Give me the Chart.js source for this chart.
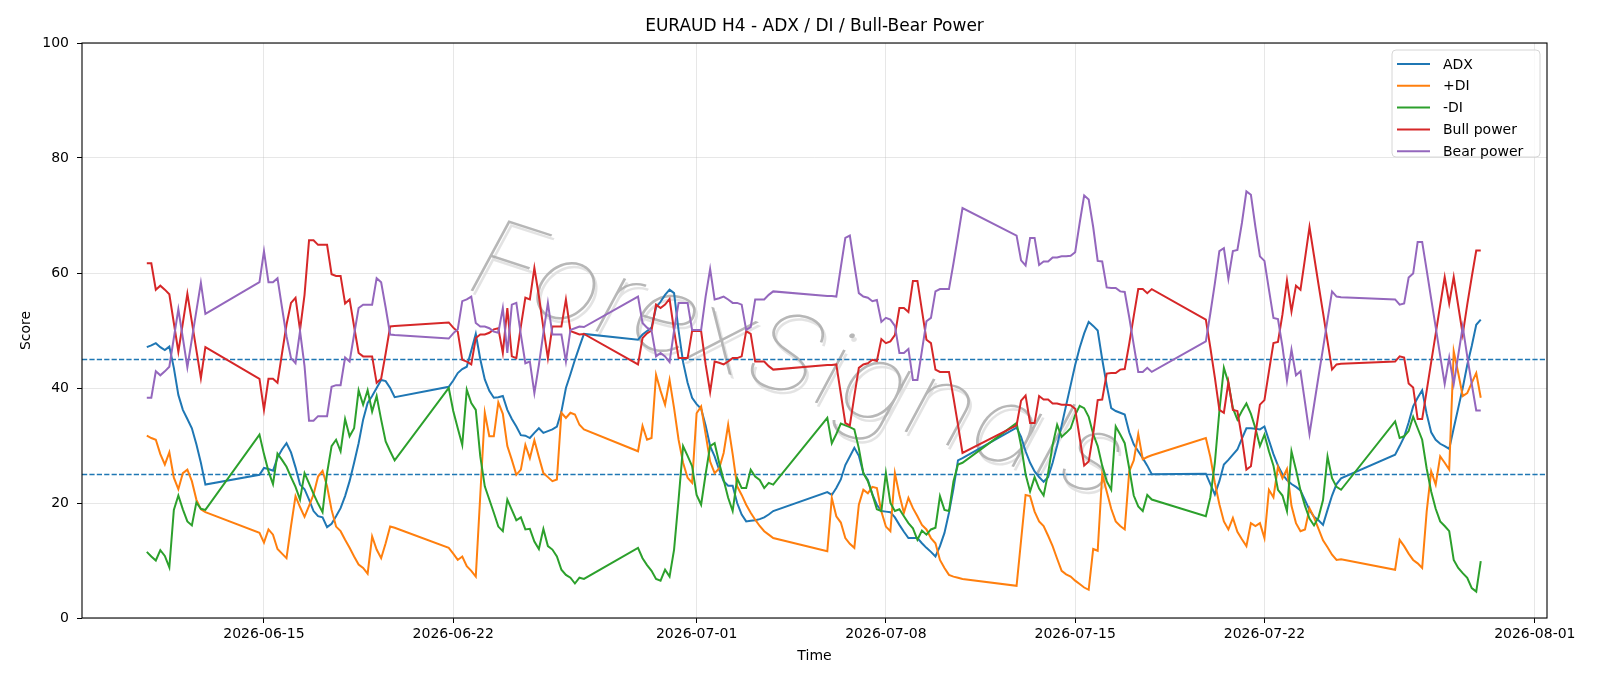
<!DOCTYPE html>
<html>
<head>
<meta charset="utf-8">
<script src="https://cdn.jsdelivr.net/npm/chart.js@4.4.1/dist/chart.umd.min.js"></script>
<style>
html,body{margin:0;padding:0;background:#ffffff;}
#wrap{width:1600px;height:686px;}
</style>
</head>
<body>
<div id="wrap"><canvas id="c" width="1600" height="686"></canvas></div>
<script>
const chartTitle = 'EURAUD H4 - ADX / DI / Bull-Bear Power';
const xTitle = 'Time';
const yTitle = 'Score';
const watermark = 'ForexSignals';

// H4 trading sessions (UTC): first bar and number of bars
const sessionStarts = ['2026-06-10T16:00Z','2026-06-14T20:00Z','2026-06-21T20:00Z','2026-06-28T20:00Z',
                       '2026-07-05T20:00Z','2026-07-12T20:00Z','2026-07-19T20:00Z','2026-07-26T20:00Z'];
const sessionBars = [14, 31, 31, 31, 31, 31, 31, 20];

const tickDates = ['2026-06-15','2026-06-22','2026-07-01','2026-07-08','2026-07-15','2026-07-22','2026-08-01'];
const yTicks = [0, 20, 40, 60, 80, 100];
const thresholds = [45, 25];

const seriesNames = ['ADX', '+DI', '-DI', 'Bull power', 'Bear power'];

const adx = [
47.1,47.4,47.8,47.1,46.6,47.2,43.5,38.8,36.2,34.6,33.0,30.2,27.0,23.2,
24.9,26.1,25.9,25.6,27.9,29.3,30.4,28.8,26.2,23.2,22.4,20.6,18.6,17.7,17.5,15.8,16.4,17.7,19.1,21.2,23.8,27.0,30.4,34.5,37.4,38.6,40.0,41.4,41.2,40.0,38.4,
40.2,41.3,42.6,43.3,43.7,46.5,49.4,45.0,41.5,39.5,38.3,38.4,38.6,36.2,34.6,33.3,31.8,31.7,31.3,32.2,33.0,32.2,32.5,32.8,33.3,35.9,40.0,42.4,44.9,47.2,49.4,
48.4,49.3,49.9,50.5,54.0,55.0,56.2,57.1,56.5,50.0,44.5,40.9,38.3,37.2,36.4,33.5,29.9,28.1,25.8,23.8,23.0,23.0,20.0,18.0,16.8,16.9,17.0,17.2,17.5,18.0,18.6,
21.9,21.4,22.6,24.1,26.6,28.1,29.6,28.2,25.2,24.0,21.5,19.7,18.6,18.5,18.4,17.5,16.2,15.0,13.9,13.9,13.9,13.0,12.2,11.5,10.7,12.5,14.8,18.3,22.5,27.4,27.8,
33.1,31.5,29.0,27.0,25.5,24.5,23.7,24.5,27.0,30.0,33.5,37.0,40.5,44.0,47.0,49.5,51.5,50.8,50.0,45.0,40.5,36.5,36.0,35.7,35.4,32.3,30.2,29.0,27.8,26.5,25.0,
25.1,23.3,21.5,23.8,26.7,27.5,28.4,29.3,31.2,33.0,33.0,32.9,32.8,33.3,30.9,28.5,26.5,25.0,24.0,23.3,22.8,22.2,20.5,18.8,17.6,17.0,16.2,18.8,21.3,23.3,24.3,
28.4,29.9,31.5,34.0,36.8,38.3,39.6,35.5,32.3,31.0,30.3,29.9,29.4,33.0,36.5,40.0,44.0,47.3,51.0,51.9
];
const plusDI = [
31.7,31.3,31.0,28.5,26.7,28.8,24.4,22.4,25.2,25.8,23.8,20.6,18.9,18.4,
14.8,13.1,15.4,14.5,12.0,11.2,10.4,16.0,21.2,19.3,17.6,19.5,21.5,24.6,25.6,22.9,18.8,15.9,15.1,13.6,12.2,10.7,9.3,8.7,7.7,14.2,11.9,10.4,13.0,15.9,15.7,
12.2,11.2,10.1,10.7,9.0,8.2,7.2,21.4,35.7,31.6,31.6,37.5,35.5,29.9,27.5,24.9,25.8,30.1,27.8,30.9,28.0,25.2,24.5,23.8,24.1,35.7,34.8,35.7,35.4,33.6,32.8,
29.0,33.4,31.0,31.3,42.3,39.5,37.1,41.4,36.5,31.0,27.0,24.4,23.5,35.6,36.8,32.0,27.2,25.2,26.0,28.7,33.6,28.5,22.9,21.4,19.7,18.3,17.1,16.0,15.1,14.5,13.9,
11.6,20.9,17.7,16.6,13.9,12.9,12.2,19.7,22.3,21.7,22.8,22.6,18.5,15.9,15.1,25.2,21.4,18.3,20.9,19.1,17.7,16.2,15.4,13.9,13.0,10.1,8.7,7.5,7.2,7.0,6.8,
5.6,13.5,21.4,21.2,18.5,16.8,16.0,14.3,12.5,10.3,8.2,7.6,7.2,6.5,5.9,5.3,4.9,12.0,11.7,25.0,22.0,19.0,16.8,16.0,15.4,25.5,27.4,32.0,27.6,28.0,28.3,
31.3,28.0,23.5,19.8,16.8,15.4,17.4,15.0,13.7,12.5,16.5,16.0,16.5,13.9,22.3,21.0,26.3,24.3,25.9,19.5,16.5,15.1,15.4,19.1,17.5,15.5,13.5,12.3,11.0,10.1,10.2,
8.4,13.6,12.5,11.2,10.1,9.5,8.7,18.5,25.5,23.2,28.1,27.0,25.8,46.4,42.6,38.6,39.1,40.9,42.6,38.3
];
const minusDI = [
11.5,10.7,10.0,11.8,10.8,8.8,18.8,21.3,18.9,16.8,16.1,20.1,19.0,18.8,
31.9,28.5,25.5,23.3,28.6,27.5,26.3,24.5,22.8,20.6,25.2,23.4,21.6,19.9,18.4,25.2,29.9,31.0,29.0,34.6,31.6,33.0,39.6,37.1,39.6,35.9,38.6,34.5,30.7,29.0,27.4,
40.0,36.0,33.0,30.1,39.7,37.4,36.2,28.1,22.9,20.6,18.3,15.9,15.1,20.6,18.8,17.0,17.5,15.4,15.5,13.3,12.0,15.5,12.5,11.9,10.7,8.4,7.5,7.0,6.0,7.0,6.8,
12.2,10.4,9.2,8.2,6.8,6.5,8.4,7.2,11.9,20.6,29.9,28.2,26.4,21.4,19.7,25.0,29.9,30.4,27.0,24.0,20.9,18.6,24.3,22.6,22.6,25.8,24.6,24.0,22.6,23.5,23.2,
34.8,30.4,32.0,33.8,33.5,33.2,32.8,29.5,25.2,23.8,21.5,18.9,18.6,25.2,20.0,18.6,18.9,17.7,16.5,15.6,13.6,15.2,14.5,15.4,15.7,21.2,18.8,18.6,23.8,26.7,27.0,
33.9,30.0,25.0,22.0,24.5,22.5,21.3,25.2,30.1,33.6,31.5,32.2,33.0,35.3,36.9,36.5,35.0,32.0,29.9,26.5,23.8,22.3,33.3,31.9,30.4,26.0,21.3,19.4,18.6,21.4,20.6,
17.7,21.0,27.0,36.0,43.5,40.9,36.5,34.5,36.0,37.3,35.5,33.0,29.9,31.9,29.0,26.5,22.3,21.3,18.6,29.0,25.8,22.2,19.5,17.3,16.1,17.5,20.5,28.1,24.3,22.8,22.3,
34.2,31.3,31.6,32.5,35.0,33.0,31.0,26.0,22.0,19.0,16.8,16.0,15.1,10.1,8.7,7.8,7.0,5.2,4.6,9.9
];
const bullPower = [
61.7,61.7,57.1,57.8,57.1,56.3,51.3,46.3,51.3,56.4,51.5,46.6,41.7,47.1,
41.6,36.2,41.6,41.6,40.9,46.0,51.0,54.8,55.7,50.1,56.2,65.7,65.7,64.9,64.9,64.9,59.8,59.5,59.5,54.7,55.4,50.7,46.1,45.5,45.5,45.5,40.9,41.6,46.0,50.7,50.8,
51.4,50.5,49.8,44.9,44.6,44.1,48.7,49.3,49.3,49.6,50.2,50.4,46.1,53.9,45.5,45.2,50.7,55.7,55.4,60.9,56.0,50.4,45.2,50.7,50.7,50.7,55.4,49.9,49.6,49.3,49.4,
44.1,48.7,49.5,50.0,54.5,53.9,54.5,55.5,50.0,45.2,45.2,45.2,49.9,49.9,49.9,44.1,39.3,44.6,44.4,44.1,44.6,45.2,45.2,45.5,49.9,49.4,44.6,44.6,44.6,43.8,43.2,
44.0,44.0,44.1,39.0,33.9,33.5,38.6,43.5,44.1,44.3,44.9,44.7,48.5,47.8,48.1,49.2,53.9,53.9,53.2,58.6,58.6,53.5,48.4,47.8,43.2,42.8,42.8,42.8,38.3,33.6,28.7,
33.5,37.8,38.7,33.9,33.9,38.6,38.0,38.0,37.3,37.3,37.1,37.1,37.0,36.4,31.3,26.5,27.2,32.0,37.9,38.0,42.5,42.6,42.6,43.2,43.3,47.7,52.5,57.2,57.2,56.5,57.2,
51.9,47.0,41.8,36.2,35.7,41.0,36.2,36.0,31.3,25.8,26.4,32.0,37.1,37.9,42.9,47.8,48.0,52.8,58.7,53.3,57.8,57.1,62.5,68.0,63.0,58.0,53.1,48.1,43.2,44.1,44.2,
44.6,45.5,45.3,40.8,40.1,34.6,34.6,39.5,44.5,49.4,54.4,59.3,54.7,59.3,54.3,49.3,54.5,59.3,63.9,63.9
];
const bearPower = [
38.3,38.3,42.9,42.2,42.9,43.7,48.7,53.7,48.7,43.6,48.5,53.4,58.3,52.9,
58.4,63.8,58.4,58.4,59.1,54.0,49.0,45.2,44.3,49.9,43.8,34.3,34.3,35.1,35.1,35.1,40.2,40.5,40.5,45.3,44.6,49.3,53.9,54.5,54.5,54.5,59.1,58.4,54.0,49.3,49.2,
48.6,49.5,50.2,55.1,55.4,55.9,51.3,50.7,50.7,50.4,49.8,49.6,53.9,46.1,54.5,54.8,49.3,44.3,44.6,39.1,44.0,49.6,54.8,49.3,49.3,49.3,44.6,50.1,50.4,50.7,50.6,
55.9,51.3,50.5,50.0,45.5,46.1,45.5,44.5,50.0,54.8,54.8,54.8,50.1,50.1,50.1,55.9,60.7,55.4,55.6,55.9,55.4,54.8,54.8,54.5,50.1,50.6,55.4,55.4,55.4,56.2,56.8,
56.0,56.0,55.9,61.0,66.1,66.5,61.4,56.5,55.9,55.7,55.1,55.3,51.5,52.2,51.9,50.8,46.1,46.1,46.8,41.4,41.4,46.5,51.6,52.2,56.8,57.2,57.2,57.2,61.7,66.4,71.3,
66.5,62.2,61.3,66.1,66.1,61.4,62.0,62.0,62.7,62.7,62.9,62.9,63.0,63.6,68.7,73.5,72.8,68.0,62.1,62.0,57.5,57.4,57.4,56.8,56.7,52.3,47.5,42.8,42.8,43.5,42.8,
48.1,53.0,58.2,63.8,64.3,59.0,63.8,64.0,68.7,74.2,73.6,68.0,62.9,62.1,57.1,52.2,52.0,47.2,41.3,46.7,42.2,42.9,37.5,32.0,37.0,42.0,46.9,51.9,56.8,55.9,55.8,
55.4,54.5,54.7,59.2,59.9,65.4,65.4,60.5,55.5,50.6,45.6,40.7,45.3,40.7,45.7,50.7,45.5,40.7,36.1,36.1
];

// ---- build x values (timestamps) ----
const H4 = 4 * 3600 * 1000;
const DAY = 24 * 3600 * 1000;
const times = [];
sessionStarts.forEach((s, i) => {
  const t0 = Date.parse(s);
  for (let k = 0; k < sessionBars[i]; k++) times.push(t0 + k * H4);
});

const seriesValues = [adx, plusDI, minusDI, bullPower, bearPower];
const colors = ['#1f77b4', '#ff7f0e', '#2ca02c', '#d62728', '#9467bd'];

const datasets = seriesValues.map((vals, i) => ({
  label: seriesNames[i],
  data: vals.map((v, j) => ({x: times[j], y: v})),
  borderColor: colors[i],
  backgroundColor: colors[i],
  borderWidth: 2,
  pointRadius: 0,
  tension: 0,
  fill: false,
  order: seriesValues.length - i
}));

const FONT = "'DejaVu Sans', 'Liberation Sans', sans-serif";
const refDay = Date.parse('2026-06-15T00:00Z');
const xMin = refDay - 6.73 * DAY;
const xMax = refDay + 47.45 * DAY;

function fmtDate(v) {
  const d = new Date(v);
  const mm = String(d.getUTCMonth() + 1).padStart(2, '0');
  const dd = String(d.getUTCDate()).padStart(2, '0');
  return d.getUTCFullYear() + '-' + mm + '-' + dd;
}

const decorPlugin = {
  id: 'decor',
  beforeDatasetsDraw(chart) {
    const {ctx, chartArea: a, scales} = chart;
    // watermark
    ctx.save();
    ctx.beginPath();
    ctx.rect(a.left, a.top, a.right - a.left, a.bottom - a.top);
    ctx.clip();
    ctx.translate(463, 288);
    ctx.rotate(18 * Math.PI / 180);
    ctx.font = "italic 100 108px Inter, Roboto, Lato, 'DejaVu Sans', sans-serif";
    const w = ctx.measureText(watermark).width;
    ctx.scale(680 / w, 1);
    ctx.textBaseline = 'alphabetic';
    ctx.fillStyle = 'rgba(222,222,222,0.85)';
    ctx.fillText(watermark, 3, 3);
    ctx.fillStyle = 'rgba(170,170,170,0.85)';
    ctx.fillText(watermark, 0, 0);
    ctx.restore();
    // threshold lines
    ctx.save();
    ctx.strokeStyle = '#1f77b4';
    ctx.lineWidth = 1.4;
    ctx.setLineDash([5.2, 2.2]);
    thresholds.forEach(t => {
      const y = Math.round(scales.y.getPixelForValue(t)) + 0.5;
      ctx.beginPath();
      ctx.moveTo(a.left, y);
      ctx.lineTo(a.right, y);
      ctx.stroke();
    });
    ctx.restore();
  },
  afterDraw(chart) {
    const {ctx, chartArea: a} = chart;
    // frame
    ctx.save();
    ctx.strokeStyle = '#000';
    ctx.lineWidth = 1.1;
    ctx.strokeRect(a.left, a.top, a.right - a.left, a.bottom - a.top);
    // title
    ctx.fillStyle = '#000';
    ctx.font = '17px ' + FONT;
    ctx.textAlign = 'center';
    ctx.textBaseline = 'middle';
    ctx.fillText(chartTitle, (a.left + a.right) / 2, 27);
    // legend
    const bx = 1392, by = 50, bw = 148, bh = 107, r = 4;
    ctx.beginPath();
    ctx.moveTo(bx + r, by);
    ctx.lineTo(bx + bw - r, by);
    ctx.quadraticCurveTo(bx + bw, by, bx + bw, by + r);
    ctx.lineTo(bx + bw, by + bh - r);
    ctx.quadraticCurveTo(bx + bw, by + bh, bx + bw - r, by + bh);
    ctx.lineTo(bx + r, by + bh);
    ctx.quadraticCurveTo(bx, by + bh, bx, by + bh - r);
    ctx.lineTo(bx, by + r);
    ctx.quadraticCurveTo(bx, by, bx + r, by);
    ctx.closePath();
    ctx.fillStyle = 'rgba(255,255,255,0.8)';
    ctx.fill();
    ctx.strokeStyle = '#d6d6d6';
    ctx.lineWidth = 1;
    ctx.stroke();
    ctx.font = '14px ' + FONT;
    ctx.textAlign = 'left';
    ctx.textBaseline = 'middle';
    seriesNames.forEach((name, i) => {
      const y = 64 + i * 21.8;
      ctx.strokeStyle = colors[i];
      ctx.lineWidth = 2;
      ctx.beginPath();
      ctx.moveTo(1397, y);
      ctx.lineTo(1430, y);
      ctx.stroke();
      ctx.fillStyle = '#000';
      ctx.fillText(name, 1443, y + 1);
    });
    ctx.restore();
  }
};

new Chart(document.getElementById('c'), {
  type: 'line',
  data: {datasets},
  plugins: [decorPlugin],
  options: {
    responsive: false,
    animation: false,
    events: [],
    layout: {padding: {top: 43, right: 53, left: 0, bottom: 0}},
    plugins: {legend: {display: false}, title: {display: false}, tooltip: {enabled: false}},
    scales: {
      x: {
        type: 'linear',
        min: xMin,
        max: xMax,
        afterBuildTicks(scale) {
          scale.ticks = tickDates.map(d => ({value: Date.parse(d + 'T00:00Z')}));
        },
        afterFit(scale) { scale.height = 68; },
        ticks: {
          callback: v => fmtDate(v),
          color: '#000',
          font: {family: FONT, size: 14},
          padding: 3,
          maxRotation: 0,
          autoSkip: false
        },
        grid: {color: 'rgba(176,176,176,0.3)', lineWidth: 1, tickColor: '#000', tickLength: 5, drawTicks: true},
        border: {display: false},
        title: {display: true, text: xTitle, color: '#000', font: {family: FONT, size: 14}, padding: {top: 0, bottom: 21}}
      },
      y: {
        min: 0,
        max: 100,
        afterBuildTicks(scale) { scale.ticks = yTicks.map(v => ({value: v})); },
        afterFit(scale) { scale.width = 82; },
        ticks: {color: '#000', font: {family: FONT, size: 14}, padding: 8},
        grid: {color: 'rgba(176,176,176,0.3)', lineWidth: 1, tickColor: '#000', tickLength: 5, drawTicks: true},
        border: {display: false},
        title: {display: true, text: yTitle, color: '#000', font: {family: FONT, size: 14}, padding: {top: 18, bottom: 0}}
      }
    }
  }
});
</script>
</body>
</html>
